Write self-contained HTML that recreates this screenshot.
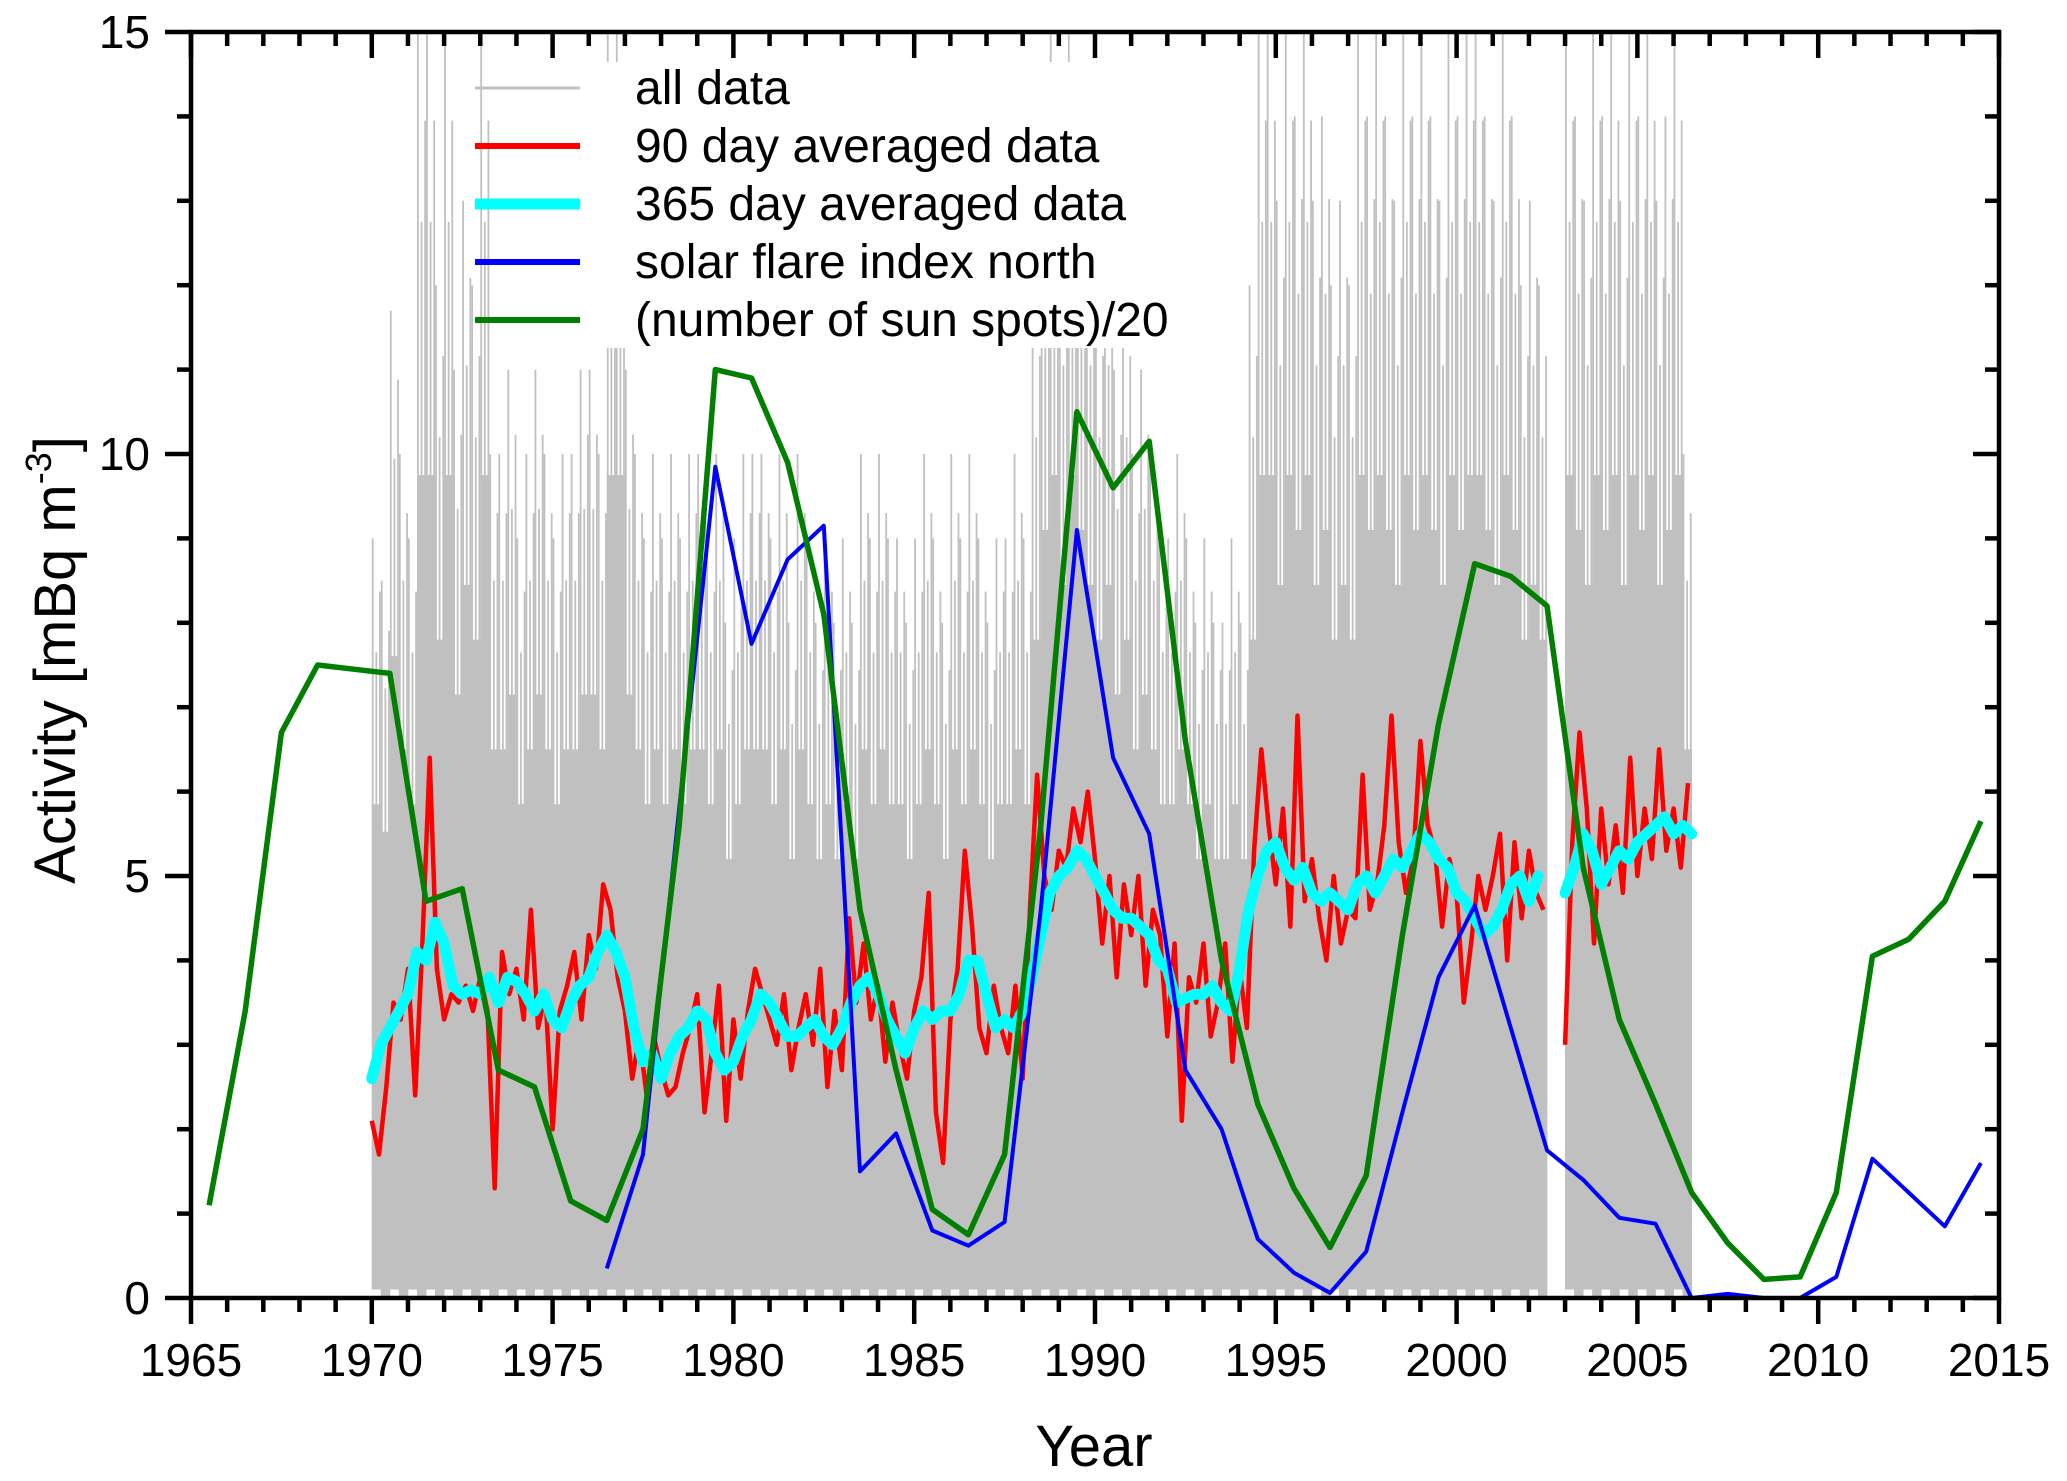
<!DOCTYPE html>
<html><head><meta charset="utf-8">
<style>
html,body{margin:0;padding:0;background:#fff;}
svg{display:block;font-family:"Liberation Sans",Arial,sans-serif;}
</style></head>
<body>
<svg id="chart" width="2067" height="1481" viewBox="0 0 2067 1481" xmlns="http://www.w3.org/2000/svg">
<g id="gray"></g>
<g id="lines"></g>
<g id="legend"></g>
<g id="axes"></g>
</svg>
<script>
// ---- data ----
const grayStart = 1970.0, grayStep = 0.25;
const grayTops = [9,8.5,11.7,10, 9,15,15,12, 15,11,13,12, 15,10,10,11, 9,10,11,10, 9,10,10,11, 11,10,15,15, 11,10,9,10, 9,10,9,10, 10,9,10,8,
 9,10,10,10, 9,10,8,10, 9,8,9,8, 9,8,10,9, 10,9,9,8, 9,10,9,8, 10,9,10,9, 8,9,9,10, 9,12,14,15, 13,15,14,13,
 12,13,11,12, 10,11,10,9, 9,10,9,8, 9,8,8,9, 8,12,15,15, 13,15,14,15, 13,14,12,13, 12,15,14,15, 14,13,15,14, 15,14,13,15,
 14,15,15,14, 13,15,14,12, 13,12,null,null, 15,14,13,15, 14,15,13,15, 14,15,13,14, 15,10];
const grayLows = [0.1, 0.0];

const redStart = 1970.0, redStep = 0.2;
const redVals = [2.1,1.7,2.5,3.5,3.3, 3.9,2.4,4.2,6.4,3.9, 3.3,3.6,3.5,3.7,3.4, 3.8,3.4,1.3,4.1,3.6, 3.9,3.3,4.6,3.2,3.6,
 2.0,3.4,3.7,4.1,3.3, 4.3,3.9,4.9,4.6,3.8, 3.4,2.6,3.1,2.4,3.1, 2.7,2.4,2.5,2.9,3.2, 3.6,2.2,2.9,3.7,2.1,
 3.3,2.6,3.4,3.9,3.6, 3.3,3.0,3.6,2.7,3.2, 3.6,3.0,3.9,2.5,3.4, 2.7,4.5,3.5,4.2,3.3, 3.7,2.8,3.5,3.0,2.6,
 3.4,3.8,4.8,2.2,1.6, 3.3,3.9,5.3,4.4,3.2, 2.9,3.7,3.2,2.9,3.7, 2.6,4.6,6.2,5.0,4.6, 5.3,5.1,5.8,5.4,6.0,
 5.2,4.2,5.0,3.8,4.9, 4.3,5.0,3.7,4.6,4.3, 3.1,4.2,2.1,3.8,3.5, 4.2,3.1,3.5,4.2,2.8, 3.9,3.2,5.3,6.5,5.6,
 4.9,5.8,4.4,6.9,4.7, 5.2,4.5,4.0,5.0,4.2, 4.6,4.5,6.2,4.6,4.9, 5.6,6.9,5.4,4.8,5.2, 6.6,5.6,5.3,4.4,5.2,
 4.8,3.5,4.2,5.0,4.6, 5.0,5.5,4.0,5.4,4.5, 5.3,4.8,4.6,null,null, 3.0,5.4,6.7,5.8,4.2, 5.8,4.9,5.6,4.8,6.4,
 5.0,5.8,5.2,6.5,5.3, 5.8,5.1,6.1];

const cyanStart = 1970.0, cyanStep = 0.25;
const cyanVals = [2.6,3.0,3.2,3.4, 3.6,4.1,4.0,4.45, 4.2,3.7,3.6,3.65, 3.6,3.8,3.5,3.8, 3.75,3.6,3.4,3.6, 3.3,3.2,3.5,3.7,
 3.8,4.1,4.3,4.1, 3.8,3.2,2.8,2.9, 2.6,2.9,3.1,3.2, 3.4,3.3,2.9,2.7, 2.8,3.1,3.3,3.6, 3.5,3.3,3.1,3.1, 3.2,3.3,3.1,3.0,
 3.2,3.5,3.7,3.8, 3.6,3.3,3.1,2.9, 3.2,3.4,3.3,3.4, 3.4,3.6,4.0,4.0, 3.6,3.2,3.3,3.2, 3.4,3.8,4.3,4.8, 5.0,5.1,5.3,5.2,
 5.0,4.8,4.6,4.5, 4.5,4.4,4.3,4.0, 3.9,3.5,3.55,3.6, 3.6,3.7,3.5,3.4, 3.9,4.6,5.0,5.3, 5.4,5.1,4.95,5.1, 4.8,4.7,4.8,4.7,
 4.6,4.9,5.0,4.8, 5.0,5.2,5.1,5.3, 5.5,5.4,5.2,5.1, 4.8,4.7,4.5,4.3, 4.4,4.6,4.9,5.0, 4.7,5.0,null,null,
 4.8,5.1,5.5,5.3, 4.9,5.1,5.3,5.2, 5.4,5.5,5.6,5.7, 5.5,5.6,5.5];

const greenYears = [1965.5,1966.5,1967.5,1968.5,1969.5,1970.5,1971.5,1972.5,1973.5,1974.5,1975.5,1976.5,1977.5,1978.5,1979.5,1980.5,1981.5,1982.5,1983.5,1984.5,1985.5,1986.5,1987.5,1988.5,1989.5,1990.5,1991.5,1992.5,1993.5,1994.5,1995.5,1996.5,1997.5,1998.5,1999.5,2000.5,2001.5,2002.5,2003.5,2004.5,2005.5,2006.5,2007.5,2008.5,2009.5,2010.5,2011.5,2012.5,2013.5,2014.5];
const greenVals = [1.1,3.4,6.7,7.5,7.45,7.4,4.7,4.85,2.7,2.5,1.15,0.92,2.0,5.6,11.0,10.9,9.9,8.1,4.6,2.7,1.05,0.75,1.7,5.6,10.5,9.6,10.15,6.6,4.0,2.3,1.3,0.6,1.45,4.3,6.8,8.7,8.55,8.2,5.1,3.3,2.3,1.25,0.65,0.22,0.25,1.25,4.05,4.25,4.7,5.65];

const blueYears = [1976.5,1977.5,1978.5,1979.5,1980.5,1981.5,1982.5,1983.5,1984.5,1985.5,1986.5,1987.5,1988.5,1989.5,1990.5,1991.5,1992.5,1993.5,1994.5,1995.5,1996.5,1997.5,1998.5,1999.5,2000.5,2001.5,2002.5,2003.5,2004.5,2005.5,2006.5,2007.5,2008.5,2009.5,2010.5,2011.5,2012.5,2013.5,2014.5];
const blueVals = [0.35,1.7,5.8,9.85,7.75,8.75,9.15,1.5,1.95,0.8,0.62,0.9,4.6,9.1,6.4,5.5,2.7,2.0,0.7,0.3,0.06,0.55,2.2,3.8,4.65,3.2,1.75,1.4,0.95,0.88,0.0,0.05,0.0,0.0,0.25,1.65,1.25,0.85,1.6];

const xTickLabels = ["1965","1970","1975","1980","1985","1990","1995","2000","2005","2010","2015"];
const yTickLabels = ["0","5","10","15"];
const legendLabels = ["all data","90 day averaged data","365 day averaged data","solar flare index north","(number of sun spots)/20"];

// ---- axes functions ----
const X0=191, X1=1999, Y0=1298, Y1=32;
function xs(yr){return X0+(yr-1965)*(X1-X0)/50;}
function ys(v){return Y0-v*(Y0-Y1)/15;}
const NS="http://www.w3.org/2000/svg";
function mk(tag,attrs,parent){const e=document.createElementNS(NS,tag);for(const k in attrs)e.setAttribute(k,attrs[k]);parent.appendChild(e);return e;}

// gray: solid body plus thin spike lines (fixed stroke pattern for texture)
const gG=document.getElementById('gray');
const subFrac=[1.0,0.62,0.85,0.48,0.93];
grayTops.forEach((v,i)=>{
  if(v===null)return;
  const yr=grayStart+i*grayStep;
  const w=xs(yr+grayStep)-xs(yr);
  const lo=grayLows[i%2];
  const top=Math.min(v,15);
  const r=mk('rect',{x:xs(yr),y:ys(top*0.65),width:w+0.4,height:ys(lo)-ys(top*0.65),fill:'#c0c0c0'},gG);
  
  
  subFrac.forEach((f,k)=>{
    const xx=xs(yr)+(k+0.5)*w/subFrac.length;
    const l=mk('line',{x1:xx,x2:xx,y1:ys(lo),y2:ys(Math.min(15,v*f)),stroke:'#c0c0c0','stroke-width':1.8},gG);
    
    
  });
});

const gL=document.getElementById('lines');
function seriesPath(xsArr,vals){
  let d='',pen=false;
  vals.forEach((v,i)=>{ if(v===null){pen=false;return;} d+=(pen?'L':'M')+xs(xsArr[i]).toFixed(1)+' '+ys(v).toFixed(1)+' '; pen=true;});
  return d;
}
const redX=redVals.map((_,i)=>redStart+i*redStep);
const cyanX=cyanVals.map((_,i)=>cyanStart+i*cyanStep);
let p;
p=mk('path',{d:seriesPath(redX,redVals),fill:'none',stroke:'#ff0000','stroke-width':4.5,'stroke-linejoin':'round'},gL);


p=mk('path',{d:seriesPath(cyanX,cyanVals),fill:'none',stroke:'#00ffff','stroke-width':11,'stroke-linejoin':'round','stroke-linecap':'round'},gL);


p=mk('path',{d:seriesPath(blueYears,blueVals),fill:'none',stroke:'#0000ff','stroke-width':4,'stroke-linejoin':'round'},gL);


p=mk('path',{d:seriesPath(greenYears,greenVals),fill:'none',stroke:'#007f00','stroke-width':5.5,'stroke-linejoin':'round'},gL);



// legend
const gLeg=document.getElementById('legend');
const legColors=['#c0c0c0','#ff0000','#00ffff','#0000ff','#007f00'];
const legWidths=[3,6,11,6,6];
const bg=mk('rect',{x:588,y:62,width:582,height:286,fill:'#fff'},gLeg);


legendLabels.forEach((t,i)=>{
  const yy=88+i*58;
  const ln=mk('line',{x1:475,x2:580,y1:yy,y2:yy,stroke:legColors[i],'stroke-width':legWidths[i]},gLeg);
  
  
  const tx=mk('text',{x:635,y:yy+16,'font-size':48,fill:'#000'},gLeg);
  tx.textContent=t;
  
  
});

// axes
const gA=document.getElementById('axes');
const fr=mk('rect',{x:X0,y:Y1,width:X1-X0,height:Y0-Y1,fill:'none',stroke:'#000','stroke-width':4.5},gA);


for(let yr=1965;yr<=2015;yr++){
  const maj=(yr%5===0), L=maj?26:14, x=xs(yr);
  let t=mk('line',{x1:x,x2:x,y1:Y0,y2:Y0+L,stroke:'#000','stroke-width':4.5},gA);
  
  
  t=mk('line',{x1:x,x2:x,y1:Y1,y2:Y1+L,stroke:'#000','stroke-width':4.5},gA);
  
  
}
xTickLabels.forEach((s,i)=>{
  const t=mk('text',{x:xs(1965+5*i),y:1376,'font-size':46,'text-anchor':'middle',fill:'#000'},gA);
  t.textContent=s;
  
  
});
for(let v=0;v<=15;v++){
  const maj=(v%5===0), L=maj?26:14, y=ys(v);
  let t=mk('line',{x1:X0-L,x2:X0,y1:y,y2:y,stroke:'#000','stroke-width':4.5},gA);
  
  
  t=mk('line',{x1:X1-L,x2:X1,y1:y,y2:y,stroke:'#000','stroke-width':4.5},gA);
  
  
}
yTickLabels.forEach((s,i)=>{
  const t=mk('text',{x:150,y:ys(5*i)+16,'font-size':46,'text-anchor':'end',fill:'#000'},gA);
  t.textContent=s;
  
  
});
</script>
<svg style="position:absolute;left:0;top:0" width="2067" height="1481">
<text x="1094" y="1466" font-size="58" text-anchor="middle" font-family="Liberation Sans, Arial, sans-serif">Year</text>
<text transform="translate(75,660) rotate(-90)" font-size="58" text-anchor="middle" font-family="Liberation Sans, Arial, sans-serif">Activity [mBq m<tspan font-size="36" dy="-24">-3</tspan><tspan dy="24">]</tspan></text>
</svg>
</body></html>
